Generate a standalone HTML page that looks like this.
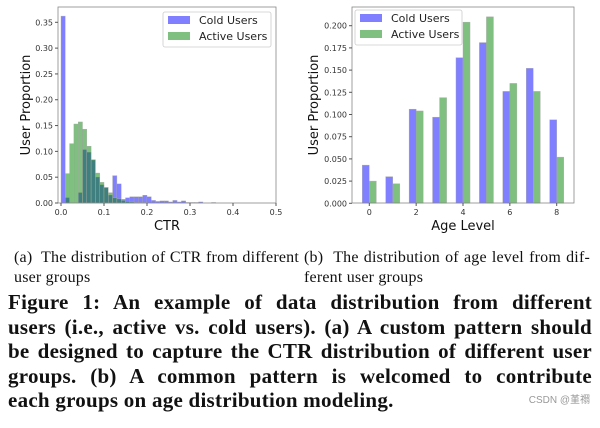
<!DOCTYPE html>
<html><head><meta charset="utf-8"><style>
body{margin:0;width:600px;height:428px;background:#fff;overflow:hidden;position:relative}
svg{position:absolute;left:0;top:0}
.cap{position:absolute;font-family:"Liberation Serif",serif;font-size:16px;letter-spacing:0.2px;line-height:20px;color:#111}
.jl{text-align:justify;text-align-last:justify;white-space:nowrap}
.fig{position:absolute;left:8px;top:290px;width:584px;font-family:"Liberation Serif",serif;font-weight:bold;font-size:21px;letter-spacing:0.25px;line-height:24.5px;color:#111}
.fig div{text-align:justify;text-align-last:justify;white-space:nowrap}
.wm{position:absolute;right:10px;top:391px;font-family:"Liberation Sans","Noto Sans CJK SC",sans-serif;font-size:10px;color:#999}
</style></head><body>
<svg id="chart" width="600" height="240"></svg>
<div class="cap" style="left:14px;top:248px;width:285px"><div class="jl">(a)&nbsp; The distribution of CTR from different</div><div>user groups</div></div>
<div class="cap" style="left:304px;top:248px;width:286px"><div class="jl">(b)&nbsp; The distribution of age level from dif-</div><div>ferent user groups</div></div>
<div class="fig">
<div>Figure 1: An example of data distribution from different</div>
<div>users (i.e., active vs. cold users). (a) A custom pattern should</div>
<div>be designed to capture the CTR distribution of different user</div>
<div>groups. (b) A common pattern is welcomed to contribute</div>
<div style="text-align-last:left">each groups on age distribution modeling.</div>
</div>
<div class="wm">CSDN @堇禤</div>
<script>
const ctrColdValues=[0.362,0.010,0.0,0.0,0.020,0.103,0.098,0.083,0.050,0.035,0.030,0.015,0.053,0.037,0.007,0.010,0.012,0.012,0.012,0.015,0.012,0.005,0.003,0.004,0.004,0.002,0.005,0.002,0.004,0.001,0.001,0.001,0.002,0.0,0.0,0.001,0.0,0.0,0.0,0.0];
const ctrActiveValues=[0.0,0.057,0.115,0.153,0.157,0.143,0.110,0.084,0.058,0.040,0.030,0.020,0.010,0.008,0.005,0.003,0.002,0.001,0.001,0.001,0.0,0.0,0.0,0.0,0.0,0.0,0.0,0.0,0.0,0.0,0.0,0.0,0.0,0.0,0.0,0.0,0.0,0.0,0.0,0.0];
const ctrXTicks=[0,0.1,0.2,0.3,0.4,0.5];
const ctrXTickLabels=["0.0","0.1","0.2","0.3","0.4","0.5"];
const ctrYTicks=[0,0.05,0.10,0.15,0.20,0.25,0.30,0.35];
const ctrYTickLabels=["0.00","0.05","0.10","0.15","0.20","0.25","0.30","0.35"];
const ageLevels=[0,1,2,3,4,5,6,7,8];
const ageColdValues=[0.043,0.030,0.106,0.097,0.164,0.181,0.126,0.152,0.094];
const ageActiveValues=[0.025,0.022,0.104,0.119,0.204,0.210,0.135,0.126,0.052];
const ageXTicks=[0,2,4,6,8];
const ageYTicks=[0,0.025,0.05,0.075,0.1,0.125,0.15,0.175,0.2];
const ageYTickLabels=["0.000","0.025","0.050","0.075","0.100","0.125","0.150","0.175","0.200"];
const BIN=0.01;
const NS="http://www.w3.org/2000/svg";
const svg=document.getElementById('chart');
function mk(t,a,p){const e=document.createElementNS(NS,t);for(const k in a)e.setAttribute(k,a[k]);(p||svg).appendChild(e);return e;}
function txt(s,a){const e=mk('text',a);e.textContent=s;return e;}
const TF='"DejaVu Sans",sans-serif';
function axes(box,xs,ys,xt,xl,yt,yl,xlabel,pfx){
  mk('rect',{x:box.l,y:box.t,width:box.r-box.l,height:box.b-box.t,fill:'none',stroke:'#888','stroke-width':0.8});
  xt.forEach((v,i)=>{const x=xs(v);
    const tk=mk('line',{x1:x,x2:x,y1:box.b,y2:box.b+3,stroke:'#555'});
    
    const t=txt(xl[i],{x:x,y:box.b+12,'font-size':8,'text-anchor':'middle','font-family':TF,fill:'#333'});
    });
  yt.forEach((v,i)=>{const y=ys(v);
    mk('line',{x1:box.l-3,x2:box.l,y1:y,y2:y,stroke:'#555'});
    const t=txt(yl[i],{x:box.l-5,y:y+3,'font-size':8,'text-anchor':'end','font-family':TF,fill:'#333'});
    });
  const xa=txt(xlabel,{x:(box.l+box.r)/2,y:box.b+27,'font-size':13,'text-anchor':'middle','font-family':TF,fill:'#111'});
  
}
function legend(x,y,w,pfx){
  const g=mk('g',{});
  
  mk('rect',{x:x,y:y,width:w,height:35,rx:2,fill:'#fff',stroke:'#ccc','stroke-width':0.8},g);
  mk('rect',{x:x+5,y:y+4,width:22,height:8,fill:'#0000ff','fill-opacity':0.5},g);
  mk('rect',{x:x+5,y:y+20,width:22,height:8,fill:'#008000','fill-opacity':0.5},g);
  const a=mk('text',{x:x+36,y:y+12,'font-size':11,'font-family':TF,fill:'#222'},g);a.textContent='Cold Users';
  const b=mk('text',{x:x+36,y:y+28,'font-size':11,'font-family':TF,fill:'#222'},g);b.textContent='Active Users';
}
// Left chart
const L={l:58,r:276,t:7,b:203};
const lx=v=>61+(v/0.5)*(276-61);
const ly=v=>203-v*(203-22.3)/0.35;
ctrColdValues.forEach((v,i)=>{if(v<=0)return;
  const r=mk('rect',{x:lx(i*BIN),y:ly(v),width:lx((i+1)*BIN)-lx(i*BIN),height:ly(0)-ly(v),fill:'#0000ff','fill-opacity':0.5,stroke:'#aaa','stroke-width':0.4});
  });
ctrActiveValues.forEach((v,i)=>{if(v<=0)return;
  const r=mk('rect',{x:lx(i*BIN),y:ly(v),width:lx((i+1)*BIN)-lx(i*BIN),height:ly(0)-ly(v),fill:'#008000','fill-opacity':0.5,stroke:'#aaa','stroke-width':0.4});
  });
axes(L,lx,ly,ctrXTicks,ctrXTickLabels,ctrYTicks,ctrYTickLabels,'CTR','ctr');
const yl1=txt('User Proportion',{x:0,y:0,'font-size':13,'text-anchor':'middle','font-family':TF,fill:'#111',transform:'translate(30,105) rotate(-90)'});

legend(163,12,108,'ctr');
// Right chart
const R={l:352,r:574,t:7,b:203};
const rx=v=>369.3+v*(556.7-369.3)/8;
const ry=v=>203.3-v*(203.3-25.7)/0.2;
const BW=0.3;
ageLevels.forEach((a,i)=>{
  const c=mk('rect',{x:rx(a-BW),y:ry(ageColdValues[i]),width:rx(a)-rx(a-BW),height:ry(0)-ry(ageColdValues[i]),fill:'#0000ff','fill-opacity':0.5,stroke:'#aaa','stroke-width':0.4});
  
  const g=mk('rect',{x:rx(a),y:ry(ageActiveValues[i]),width:rx(a+BW)-rx(a),height:ry(0)-ry(ageActiveValues[i]),fill:'#008000','fill-opacity':0.5,stroke:'#aaa','stroke-width':0.4});
  
});
axes(R,rx,ry,ageXTicks,ageXTicks.map(String),ageYTicks,ageYTickLabels,'Age Level','age');
const yl2=txt('User Proportion',{x:0,y:0,'font-size':13,'text-anchor':'middle','font-family':TF,fill:'#111',transform:'translate(318,105) rotate(-90)'});

legend(355,10,107,'age');
</script>
</body></html>
